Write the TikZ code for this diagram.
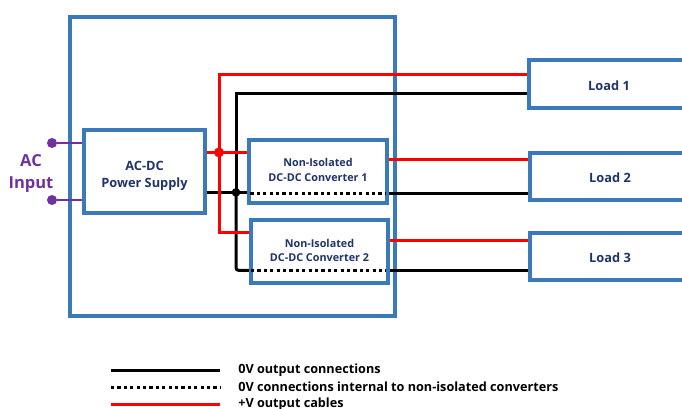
\documentclass[tikz,border=0pt]{standalone}
\usepackage{fontspec}
\setmainfont{Open Sans}
\usepackage{tikz}
\definecolor{boxblue}{HTML}{3A7AB8}
\definecolor{navy}{HTML}{1F3468}
\definecolor{acpurple}{HTML}{7030A0}
\begin{document}
\begin{tikzpicture}[x=0.75pt,y=-0.75pt,
        box/.style={draw=boxblue, line width=2.8pt, fill=white, inner sep=0pt,
                        text=navy, font=\bfseries\fontsize{9.6}{12.75}\selectfont, align=center},
        conv/.style={box, font=\bfseries\fontsize{8.1}{10.9}\selectfont,
                        minimum width=103pt, minimum height=47.25pt},
        lo/.style={box, minimum width=120pt, minimum height=35.5pt, text height=9.6pt, text depth=0pt},
        plusv/.style={draw=red, line width=2.25pt},
        zero/.style={draw=black, line width=2.25pt},
        ac/.style={draw=acpurple, line width=2pt},
        internal/.style={draw=black, line width=2.3pt, dash pattern=on 2.4pt off 2.4pt},
        p/.style={circle, fill=#1, inner sep=0pt, minimum width=7.5pt},
        legend/.style={anchor=west, inner sep=0pt, font=\bfseries\fontsize{9.5}{10}\selectfont}]
    \useasboundingbox (0,0) rectangle (682,409);
    \node[box, minimum width=243.75pt, minimum height=224.25pt] (outer) at (232.5,166.5) {};
    % blocks
    \node[box, minimum width=90.75pt, minimum height=62.25pt, text height=26.5pt] (psu) at (144.5,171.5)
        {AC-DC\\Power Supply};
    \node[conv, text depth=2.7pt] (conv1) at (318,171.5) {Non-Isolated\\DC-DC Converter 1};
    \node[conv, text depth=1.6pt] (conv2) at (319.5,251.5) {Non-Isolated\\DC-DC Converter 2};
    \node[lo] (load1) at (609,84) {Load 1};
    \node[lo] (load2) at (610,176.5) {Load 2};
    \node[lo] (load3) at (610,256.5) {Load 3};
    % junctions and cable levels
    \coordinate (redj) at (219,152.4);
    \coordinate (blackj) at (236,192.4);
    \coordinate (psuR) at (psu.east |- redj);
    \coordinate (psuB) at (psu.east |- blackj);
    \coordinate (c1Rin) at (conv1.west |- redj);
    \coordinate (c1Bin) at (conv1.west |- blackj);
    \coordinate (c2Rin) at (conv2.west |- 0,232.4);
    \coordinate (c2Bin) at (conv2.west |- 0,270.4);
    \coordinate (c1Rout) at (conv1.east |- 0,159.4);
    \coordinate (c1Bout) at (conv1.east |- 0,193.4);
    \coordinate (c2Rout) at (conv2.east |- 0,240.4);
    \coordinate (c2Bout) at (conv2.east |- 0,270.4);
    % 0V
    \draw[zero] (psuB) -- (c1Bin);
    \draw[zero] (load1.west |- 0,93.4) -| (blackj);
    \draw[zero, rounded corners=2pt] (blackj) |- (c2Bin);
    \draw[zero] (c1Bout) -- (load2.west |- c1Bout);
    \draw[zero] (c2Bout) -- (load3.west |- c2Bout);
    % +V
    \draw[plusv] (psuR) -- ++(8,0);
    \draw[plusv] (redj) -- (c1Rin);
    \draw[plusv] (load1.west |- 0,74.4) -| (redj);
    \draw[plusv] (redj) |- (c2Rin);
    \draw[plusv] (c1Rout) -- (load2.west |- c1Rout);
    \draw[plusv] (c2Rout) -- (load3.west |- c2Rout);
    % inside the converters
    \draw[internal] (c1Bin) ++(3,1) -- (385,193.4);
    \draw[internal] (c2Bin) ++(2,0) -- (386,270.4);
    \node[p=red] (redjdot) at (redj) {};
    \node[p=black, minimum width=6.5pt] (blackjdot) at (blackj) {};
    % AC input
    \node[p=acpurple] (acA) at (52,143) {};
    \node[p=acpurple] (acB) at (52,200) {};
    \draw[ac] (acA) -- (acA -| psu.west);
    \draw[ac] (acB) -- (acB -| psu.west);
    \node[text=acpurple, font=\bfseries\fontsize{12.4}{16.5}\selectfont, align=center, inner sep=0pt] (acin) at (31,173.5) {AC\\Input};
    % legend
    \node[legend] (lg1) at (238,370.5) {0V output connections};
    \node[legend] (lg2) at (238,387) {0V connections internal to non-isolated converters};
    \node[legend] (lg3) at (238,404) {+V output cables};
    \coordinate (lgs1) at (111,370.4);
    \coordinate (lgs2) at (111,387.4);
    \coordinate (lgs3) at (111,404.4);
    \draw[zero] (lgs1) -- ++(109,0);
    \draw[internal] (lgs2) -- ++(109,0);
    \draw[plusv] (lgs3) -- ++(109,0);
\end{tikzpicture}
\end{document}
